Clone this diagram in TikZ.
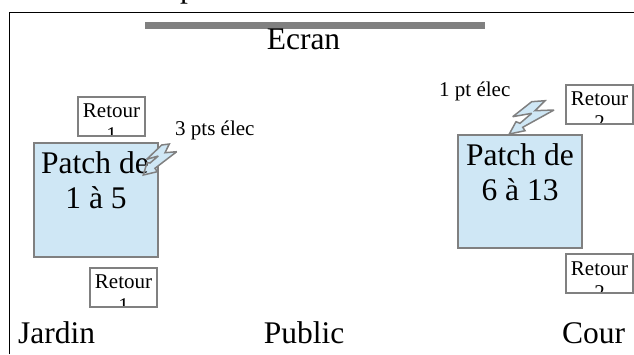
\documentclass[tikz,border=0pt]{standalone}
\usepackage{fontspec}
\setmainfont{Liberation Serif}
\definecolor{patchblue}{HTML}{CFE7F5}
\definecolor{edgegrey}{HTML}{808080}
\newcommand{\retourbox}[5]{% name, left, top, second line, baseline
  \begin{scope}
    \clip (#2,#3) rectangle ++(67,39);
    \node[small,anchor=base] (#1a) at (#2+33.5,#5) {Retour};
    \node[small,anchor=base] (#1b) at (#2+33.5,#5+24) {#4};
  \end{scope}
  \draw[edge] (#2,#3) rectangle ++(67,39);
}
\tikzset{
  x=1pt,y=-1pt,
  edge/.style={draw=edgegrey,line width=1.6pt},
  large/.style={font=\fontsize{31.5}{32}\selectfont,inner sep=0pt},
  small/.style={font=\fontsize{21}{22}\selectfont,inner sep=0pt},
  patch/.style={fill=patchblue,draw=edgegrey,line width=1.6pt},
}
\begin{document}
\begin{tikzpicture}
\useasboundingbox (0,0) rectangle (634,354);
% frame
\draw[black,line width=1pt] (9,354) -- (9,12.5) -- (634,12.5);
% clipped text above the frame
\begin{scope}
  \clip (0,0) rectangle (634,12);
  \node[large,anchor=base] (topp) at (188,-3) {p};
\end{scope}
% screen
\fill[edgegrey] (145,22) rectangle (485,29);
\node[large,anchor=base] (ecran) at (303.5,49) {Ecran};
% return boxes
\retourbox{r1}{78}{97}{1}{117}
\retourbox{r2}{90}{268}{1}{288}
\retourbox{r3}{566}{85}{2}{105}
\retourbox{r4}{566}{254}{2}{275}
% patches
\draw[patch] (34,143) rectangle (158,257);
\draw[patch] (458,135) rectangle (582,248);
% bolts
\def\boltA{(169.3,144) -- (161.7,145) -- (146.7,159.3) -- (158.3,156) -- (150,163) -- (147,162.7) -- (143.3,175) -- (157.3,171.7) -- (155,168.3) -- (176.7,151.7) -- (165,152.7) -- cycle}
\def\boltB{(545,100.7) -- (531.7,101.7) -- (512.7,116.7) -- (531.7,113.3) -- (520,123.3) -- (516,121.7) -- (509.3,134) -- (525,130.7) -- (522.7,127.3) -- (554,110) -- (535,110.7) -- cycle}
\fill[patchblue] \boltA;
\fill[patchblue] \boltB;
% patch texts
\node[large,anchor=base] (p1a) at (95,173) {Patch de};
\node[large,anchor=base] (p1b) at (96,208) {1 à 5};
\node[large,anchor=base] (p2a) at (520,165) {Patch de};
\node[large,anchor=base] (p2b) at (520,200) {6 à 13};
\draw[edgegrey,line width=1.5pt,line join=miter,miter limit=3] \boltA;
\draw[edgegrey,line width=1.5pt,line join=miter,miter limit=3] \boltB;
% labels
\node[small,anchor=base west] (l3) at (175,135) {3 pts élec};
\node[small,anchor=base west] (l1) at (439,96) {1 pt élec};
\node[large,anchor=base west] (jardin) at (18,343) {Jardin};
\node[large,anchor=base] (public) at (304,343) {Public};
\node[large,anchor=base west] (cour) at (562,343) {Cour};
\end{tikzpicture}
\end{document}
